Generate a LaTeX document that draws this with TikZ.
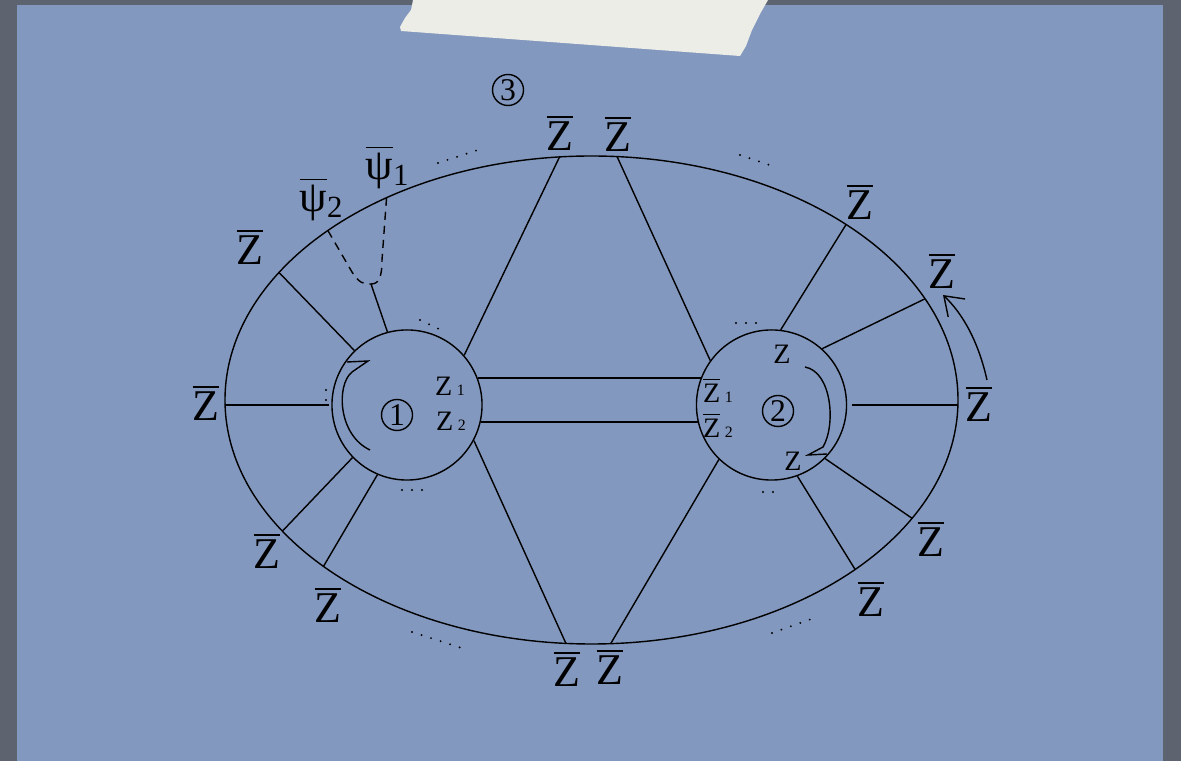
\documentclass[tikz,border=0pt]{standalone}
\usepackage{fontspec}
\setmainfont{Liberation Serif}
\usetikzlibrary{arrows.meta}
\definecolor{frame}{RGB}{94,99,112}
\definecolor{paper}{RGB}{131,152,190}
\definecolor{tape}{RGB}{237,237,232}
\newcommand{\zb}{$\overline{\mbox{Z}}$}
\newcommand{\psib}[1]{$\overline{\mbox{ψ}}$\textsubscript{#1}}
\newcommand{\zsub}[2]{#1\,{\fontsize{4.5}{5}\selectfont #2}}

\begin{document}
\begin{tikzpicture}[x=0.01cm, y=0.01cm,
  lab/.style={font=\fontsize{12.5}{14}\selectfont, inner sep=0pt},
  inlab/.style={font=\fontsize{8}{9}\selectfont, inner sep=0pt},
  ring/.style={circle, draw, minimum size=1.5cm, inner sep=0pt},
  num/.style={circle, draw, minimum size=0.31cm, inner sep=0pt, font=\fontsize{9}{10}\selectfont},
  dotrow/.style={line width=0.6pt, line cap=round, dash pattern=on 0pt off 2.845pt}]

\useasboundingbox (0,0) rectangle (1181,-761);
\fill[frame] (0,0) rectangle (1181,-761);
\fill[paper] (17,-5) rectangle (1163,-761);
\fill[tape] (413,0) -- (411,-10) -- (405,-18) -- (400,-27) -- (401,-31) -- (740,-56)
  -- (746,-46) -- (752,-30) -- (760,-14) -- (768,0) -- cycle;

% outer boundary and the two discs
\coordinate (E) at (591.5,-400);
\draw (E) ellipse [x radius=366.5, y radius=244];
\node[ring] (C1) at (407,-405) {};
\node[ring] (C2) at (771.5,-405) {};
\node[num] (n1) at (397,-415) {1};
\node[num] (n2) at (778,-411) {2};
\node[num] (n3) at (508,-90) {3};

% points on the ellipse
\foreach \n/\t in {a/148.5, b/212.5, c/223, L/180, P1/124, P2/136, T1/95, T2/86,
                   B1/266, B2/273, d/46, e/24.5, R/0, f/331, g/316}{
  \path (E) ++(\t:366.5 and 244) coordinate (e\n);
}

% spokes
\foreach \a/\n in {134/a, 224/b, 247/c, 41/T1, -28/B1}{
  \draw (C1.\a) -- (e\n);
}
\foreach \a/\n in {144/T2, 226/B2, 83/d, 48/e, -45/f, -70/g}{
  \draw (C2.\a) -- (e\n);
}
\draw[shorten <=0.6pt] (C1.west) -- (C1.west -| eL);
\draw[shorten <=1.4pt] (C2.east) -- (C2.east -| eR);
\draw (C1.21) -- (C2.159);
\draw (C1.-13) -- (C2.193);

% the two fermion lines joining
\coordinate (J) at (371,-284);
\draw (J) -- (C1.105);
\draw[dash pattern=on 2.3pt off 1.7pt] (eP2) -- (352,-272) .. controls (358,-282) and (364,-285) .. (J);
\draw[dash pattern=on 2.3pt off 1.7pt] (eP1) -- (382,-260) .. controls (382,-279) and (378,-284) .. (J);

% orientation marks
\draw (370,-450) .. controls (338,-435) and (336,-385) .. (352,-372) -- (368,-361) -- (347,-362);
\draw (805,-367) .. controls (832,-372) and (836,-425) .. (823,-447) -- (808,-455) -- (827,-454);
\draw[-{Straight Barb[length=5pt,width=7pt]}] (987,-380) .. controls (978,-340) and (962,-313) .. (943,-295);

% dots
\draw[dotrow] (438,-163) -- (478,-150);
\draw[dotrow] (740,-155) -- (769.5,-165);
\draw[dotrow] (412,-632) -- (460,-647.5);
\draw[dotrow] (772,-633) -- (810,-619.5);
\draw[dotrow] (420,-320) -- (439,-329);
\draw[dotrow] (402,-490) -- (422.5,-490);
\draw[dotrow] (736,-323) -- (756.5,-323);
\draw[dotrow] (763,-492) -- (773.5,-492);
\draw[dotrow] (326,-390) -- (326,-400.5);

% outer labels
\node[lab] (zt1) at (560,-133) {\zb};
\node[lab] (zt2) at (618,-134) {\zb};
\node[lab] (zb1) at (567,-669) {\zb};
\node[lab] (zb2) at (610,-667) {\zb};
\node[lab] (zl1) at (250,-247) {\zb};
\node[lab] (zl2) at (206,-403) {\zb};
\node[lab] (zl3) at (267,-551) {\zb};
\node[lab] (zl4) at (328,-605) {\zb};
\node[lab] (zr1) at (860,-202) {\zb};
\node[lab] (zr2) at (942,-271) {\zb};
\node[lab] (zr3) at (979,-404) {\zb};
\node[lab] (zr4) at (931,-539) {\zb};
\node[lab] (zr5) at (871,-599) {\zb};
\node[lab] (psi1) at (388,-167) {\psib{1}};
\node[lab] (psi2) at (322,-199) {\psib{2}};

% labels inside the discs
\node[inlab] (z1) at (450,-386) {\zsub{Z}{1}};
\node[inlab] (z2) at (451,-421) {\zsub{Z}{2}};
\node[inlab] (w1) at (718,-390) {\zsub{\zb}{1}};
\node[inlab] (w2) at (718,-425) {\zsub{\zb}{2}};
\node[inlab] (zu) at (782,-354) {Z};
\node[inlab] (zd) at (793,-461) {Z};
\end{tikzpicture}
\end{document}
